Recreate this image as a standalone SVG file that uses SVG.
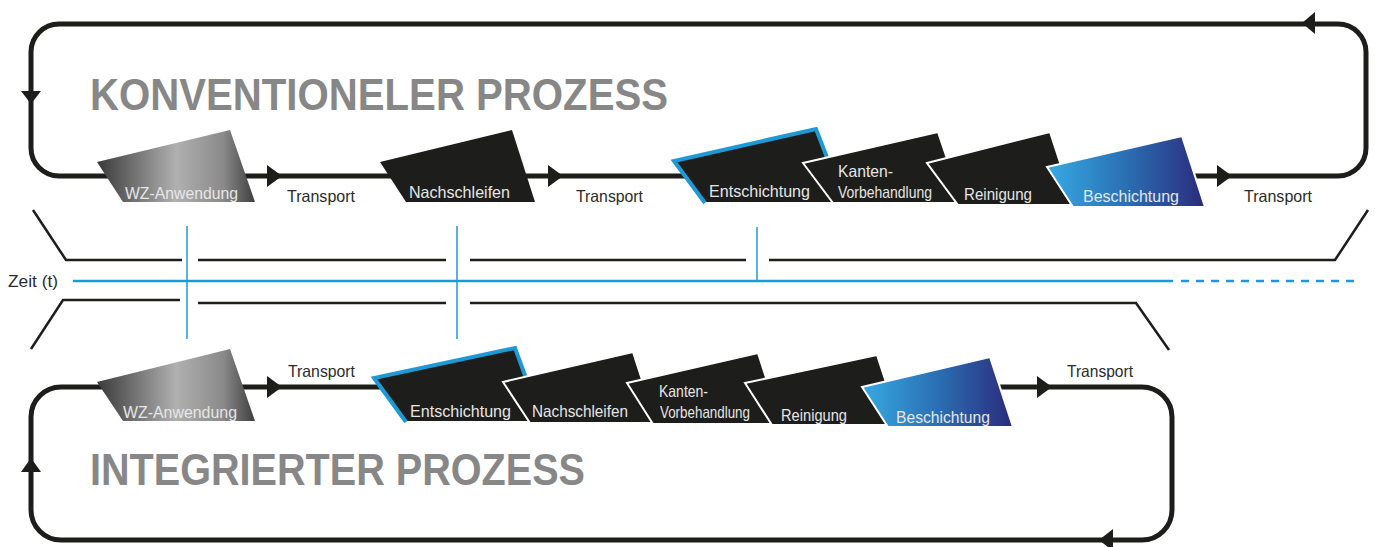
<svg xmlns="http://www.w3.org/2000/svg" width="1375" height="547" viewBox="0 0 1375 547">
<defs>
<linearGradient id="gWZ" x1="0" y1="0" x2="1" y2="0">
<stop offset="0" stop-color="#3a3a3a"/>
<stop offset="0.5" stop-color="#b0b0b0"/>
<stop offset="0.8" stop-color="#8a8a8a"/>
<stop offset="1" stop-color="#3e3e3e"/>
</linearGradient>
<linearGradient id="gBS" x1="0" y1="0" x2="1" y2="0">
<stop offset="0" stop-color="#36aae2"/>
<stop offset="0.5" stop-color="#2b6fb3"/>
<stop offset="1" stop-color="#2b2a7c"/>
</linearGradient>
</defs>
<style>
.loop{fill:none;stroke:#1d1d1b;stroke-width:5}
.arr{fill:#1d1d1b}
.tl{fill:none;stroke:#1d1d1b;stroke-width:2.5}
.bl{fill:none;stroke:#1d9ad6;stroke-width:2.5}
.bv{fill:none;stroke:#1d9ad6;stroke-width:1.5}
.blk{fill:#1d1d1b}
.wst{stroke:#ffffff;stroke-width:2}
.blue{fill:none;stroke:#1d9ad6;stroke-width:4;stroke-linejoin:miter}
.lbl{font-family:"Liberation Sans",Arial,sans-serif;font-size:16.5px;fill:#e6e6e6}
.tr{font-family:"Liberation Sans",Arial,sans-serif;font-size:16.5px;fill:#2b2b2b}
.title{font-family:"Liberation Sans",Arial,sans-serif;font-size:45px;font-weight:bold;fill:#878787}
</style>

<g id="connectors">
<rect class="loop" x="31" y="24" width="1335" height="152" rx="28"/>
<rect class="loop" x="31" y="387" width="1141" height="153" rx="30"/>
<polygon class="arr" points="21,91 41,91 31,104"/>
<polygon class="arr" points="1315,12 1315,34 1302,23"/>
<polygon class="arr" points="1217,165 1217,187 1232,176"/>
<polygon class="arr" points="267,165 267,187 282,176"/>
<polygon class="arr" points="548,165 548,187 563,176"/>
<polygon class="arr" points="267,376 267,398 282,387"/>
<polygon class="arr" points="1037,376 1037,398 1052,387"/>
<polygon class="arr" points="1113,529 1113,551 1099,540"/>
<polygon class="arr" points="21,472 41,472 31,458"/>
</g>

<g id="title-top"><text class="title" x="90" y="110" textLength="578" lengthAdjust="spacingAndGlyphs">KONVENTIONELER PROZESS</text></g>
<g id="title-bottom"><text class="title" x="90" y="485" textLength="495" lengthAdjust="spacingAndGlyphs">INTEGRIERTER PROZESS</text></g>

<g id="timeline">
<polyline class="tl" points="33,210 66,260 182,260"/>
<line class="tl" x1="198" y1="260" x2="446" y2="260"/>
<line class="tl" x1="470" y1="260" x2="746" y2="260"/>
<polyline class="tl" points="769,260 1335,260 1368,210"/>
<polyline class="tl" points="31,349 63,300 180,300"/>
<line class="tl" x1="198" y1="303" x2="446" y2="303"/>
<polyline class="tl" points="470,303 1136,303 1169,350"/>
<line class="bl" x1="73" y1="281" x2="1173" y2="281"/>
<line class="bl" x1="1181" y1="281" x2="1357" y2="281" stroke-dasharray="8,7"/>
<line class="bv" x1="187" y1="226" x2="187" y2="339"/>
<line class="bv" x1="457" y1="226" x2="457" y2="339"/>
<line class="bv" x1="757" y1="227" x2="757" y2="282"/>
<text class="tr" x="8" y="287" textLength="50" lengthAdjust="spacingAndGlyphs">Zeit (t)</text>
</g>

<!-- top row -->
<g id="t-wz"><polygon points="97,162 230,130 255,202 123,202" fill="url(#gWZ)"/><text class="lbl" x="125" y="199" fill="#fff" textLength="113" lengthAdjust="spacingAndGlyphs">WZ-Anwendung</text></g>
<g id="t-tr1"><text class="tr" x="287" y="202" textLength="68" lengthAdjust="spacingAndGlyphs">Transport</text></g>
<g id="t-ns"><polygon class="blk" points="380,162 512,130 535,202 406,202"/><text class="lbl" x="409" y="198" textLength="101" lengthAdjust="spacingAndGlyphs">Nachschleifen</text></g>
<g id="t-tr2"><text class="tr" x="576" y="202" textLength="67" lengthAdjust="spacingAndGlyphs">Transport</text></g>
<g id="t-en"><polygon class="blk" points="674,161 816,129 840,202 704,202"/><polyline class="blue" points="705,203 674,161 816,129 828,160"/><text class="lbl" x="709" y="197" textLength="101" lengthAdjust="spacingAndGlyphs">Entschichtung</text></g>
<g id="t-kv"><polygon class="blk wst" points="803,163 938,132 962,203 833,203"/><text class="lbl" x="838" y="177" textLength="55" lengthAdjust="spacingAndGlyphs">Kanten-</text><text class="lbl" x="838" y="198" textLength="94" lengthAdjust="spacingAndGlyphs">Vorbehandlung</text></g>
<g id="t-re"><polygon class="blk wst" points="927,163 1050,132 1074,205 958,205"/><text class="lbl" x="964" y="200" textLength="68" lengthAdjust="spacingAndGlyphs">Reinigung</text></g>
<g id="t-bs"><polygon class="wst" points="1047,167 1182,136 1205,207 1073,207" fill="url(#gBS)"/><text class="lbl" x="1083" y="202" fill="#fff" textLength="96" lengthAdjust="spacingAndGlyphs">Beschichtung</text></g>
<g id="t-tr3"><text class="tr" x="1244" y="202" textLength="68" lengthAdjust="spacingAndGlyphs">Transport</text></g>

<!-- bottom row -->
<g id="b-wz"><polygon points="97,382 230,349 255,421 123,421" fill="url(#gWZ)"/><text class="lbl" x="123" y="418" fill="#fff" textLength="114" lengthAdjust="spacingAndGlyphs">WZ-Anwendung</text></g>
<g id="b-tr1"><text class="tr" x="288" y="377" textLength="67" lengthAdjust="spacingAndGlyphs">Transport</text></g>
<g id="b-en"><polygon class="blk" points="373,378 515,348 540,421 405,421"/><polyline class="blue" points="406,422 374,378 515,348 526,378"/><text class="lbl" x="410" y="417" textLength="101" lengthAdjust="spacingAndGlyphs">Entschichtung</text></g>
<g id="b-ns"><polygon class="blk wst" points="503,382 633,352 656,423 530,423"/><text class="lbl" x="532" y="417" textLength="96" lengthAdjust="spacingAndGlyphs">Nachschleifen</text></g>
<g id="b-kv"><polygon class="blk wst" points="627,383 758,353 781,424 653,424"/><text class="lbl" x="659" y="397" textLength="49" lengthAdjust="spacingAndGlyphs">Kanten-</text><text class="lbl" x="660" y="418" textLength="90" lengthAdjust="spacingAndGlyphs">Vorbehandlung</text></g>
<g id="b-re"><polygon class="blk wst" points="745,383 877,355 900,425 772,425"/><text class="lbl" x="781" y="421" textLength="66" lengthAdjust="spacingAndGlyphs">Reinigung</text></g>
<g id="b-bs"><polygon class="wst" points="862,387 990,357 1013,427 888,427" fill="url(#gBS)"/><text class="lbl" x="896" y="423" fill="#fff" textLength="94" lengthAdjust="spacingAndGlyphs">Beschichtung</text></g>
<g id="b-tr2"><text class="tr" x="1067" y="377" textLength="66" lengthAdjust="spacingAndGlyphs">Transport</text></g>
</svg>
